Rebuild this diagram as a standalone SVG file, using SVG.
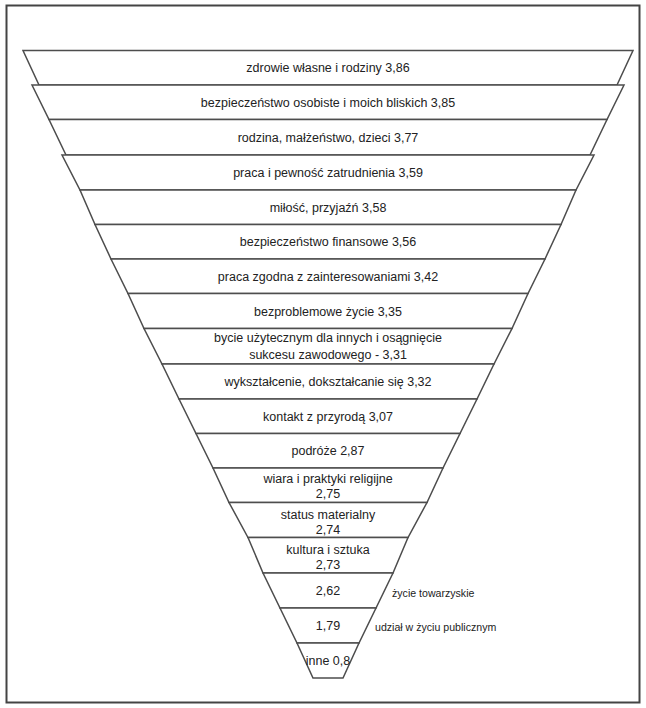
<svg xmlns="http://www.w3.org/2000/svg" width="646" height="708" viewBox="0 0 646 708">
<style>
.band{fill:#fff;stroke:#4d4d4d;stroke-width:1.5;stroke-linejoin:miter}
.lbl{font-family:"Liberation Sans",Arial,sans-serif;font-size:12.5px;fill:#222;text-anchor:middle}
.side{font-family:"Liberation Sans",Arial,sans-serif;font-size:10.6px;fill:#222;text-anchor:start}
</style>
<rect x="0" y="0" width="646" height="708" fill="#fff"/>
<rect id="frame" x="6.5" y="5.5" width="633" height="697" fill="none" stroke="#444" stroke-width="2"/>
<g id="connectors"/>
<g id="band1"><polygon class="band" points="23,50.5 633,50.5 617,85 39,85"/><text class="lbl" x="328" y="72">zdrowie własne i rodziny 3,86</text></g>
<g id="band2"><polygon class="band" points="32,85 624,85 607,119.5 49,119.5"/><text class="lbl" x="328" y="106.5">bezpieczeństwo osobiste i moich bliskich 3,85</text></g>
<g id="band3"><polygon class="band" points="49,119.5 607,119.5 590,155 66,155"/><text class="lbl" x="328" y="141.5">rodzina, małżeństwo, dzieci 3,77</text></g>
<g id="band4"><polygon class="band" points="62,155 594,155 576,190 80,190"/><text class="lbl" x="328" y="177">praca i pewność zatrudnienia 3,59</text></g>
<g id="band5"><polygon class="band" points="80,190 576,190 561,224.5 95,224.5"/><text class="lbl" x="328" y="211.5">miłość, przyjaźń 3,58</text></g>
<g id="band6"><polygon class="band" points="95,224.5 561,224.5 545,259 111,259"/><text class="lbl" x="328" y="246">bezpieczeństwo finansowe 3,56</text></g>
<g id="band7"><polygon class="band" points="111,259 545,259 528,293.5 128,293.5"/><text class="lbl" x="328" y="280.5">praca zgodna z zainteresowaniami 3,42</text></g>
<g id="band8"><polygon class="band" points="128,293.5 528,293.5 512,328.5 144,328.5"/><text class="lbl" x="328" y="315.5">bezproblemowe życie 3,35</text></g>
<g id="band9"><polygon class="band" points="144,328.5 512,328.5 494,364 162,364"/><text class="lbl" x="328" y="342">bycie użytecznym dla innych i osągnięcie</text><text class="lbl" x="328" y="359">sukcesu zawodowego - 3,31</text></g>
<g id="band10"><polygon class="band" points="162,364 494,364 477,399 179,399"/><text class="lbl" x="328" y="386">wykształcenie, dokształcanie się 3,32</text></g>
<g id="band11"><polygon class="band" points="179,399 477,399 460,433.5 196,433.5"/><text class="lbl" x="328" y="420.5">kontakt z przyrodą 3,07</text></g>
<g id="band12"><polygon class="band" points="196,433.5 460,433.5 443,468 213,468"/><text class="lbl" x="328" y="455">podróże 2,87</text></g>
<g id="band13"><polygon class="band" points="213,468 443,468 427,502.5 229,502.5"/><text class="lbl" x="328" y="482.5">wiara i praktyki religijne</text><text class="lbl" x="328" y="498">2,75</text></g>
<g id="band14"><polygon class="band" points="229,502.5 427,502.5 408,537.5 248,537.5"/><text class="lbl" x="328" y="519">status materialny</text><text class="lbl" x="328" y="533.5">2,74</text></g>
<g id="band15"><polygon class="band" points="248,537.5 408,537.5 393,573 263,573"/><text class="lbl" x="328" y="553.5">kultura i sztuka</text><text class="lbl" x="328" y="568.5">2,73</text></g>
<g id="band16"><polygon class="band" points="263,573 393,573 376,608 280,608"/><text class="lbl" x="328" y="595">2,62</text><text class="side" x="392" y="597">życie towarzyskie</text></g>
<g id="band17"><polygon class="band" points="280,608 376,608 359,643 297,643"/><text class="lbl" x="328" y="630">1,79</text><text class="side" x="375" y="631">udział w życiu publicznym</text></g>
<g id="band18"><polygon class="band" points="297,643 359,643 343,678 313,678"/><text class="lbl" x="328" y="665">inne 0,8</text></g>
</svg>
